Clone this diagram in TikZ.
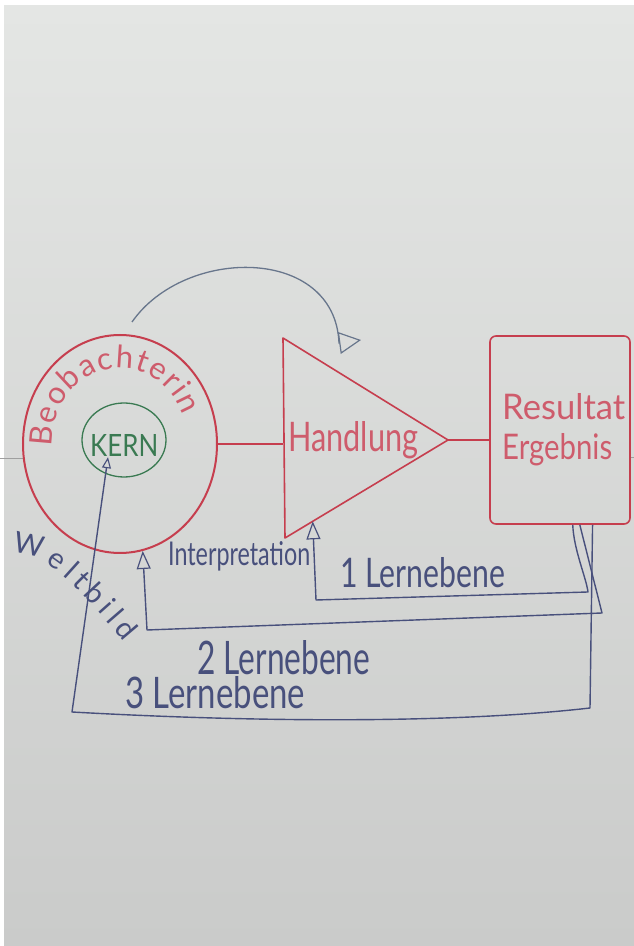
\documentclass[tikz,border=0pt]{standalone}
\usepackage{fontspec}
\setmainfont{Lato}
\usetikzlibrary{arrows.meta,shapes.geometric,calc,decorations.text}

\definecolor{penred}{RGB}{198,62,78}
\definecolor{inkred}{RGB}{206,92,108}
\definecolor{pengreen}{RGB}{58,122,82}
\definecolor{penblue}{RGB}{72,80,124}
\definecolor{pengray}{RGB}{104,118,140}
\definecolor{papertop}{RGB}{228,230,228}
\definecolor{papermid}{RGB}{220,222,219}
\definecolor{paperlow}{RGB}{202,203,202}

\begin{document}
\begin{tikzpicture}[x=1pt,y=1pt,
  redpen/.style={draw=penred, line width=1.6pt, line join=round},
  bluepen/.style={draw=penblue, line width=1.4pt, line join=round},
  openhead/.style={-{Triangle[open,length=18pt,width=14pt,line width=1.2pt]}},
  smallhead/.style={-{Triangle[open,length=11pt,width=9pt,line width=1.1pt]}},
  handtext/.style={inner sep=0pt, anchor=base west},
]
\useasboundingbox (0,0) rectangle (634,946);

% paper
\fill[white] (0,0) rectangle (634,946);
\shade[top color=papertop, middle color=papermid, bottom color=paperlow] (4,0) rectangle (634,940);
\draw[gray!75, line width=0.8pt] (0,488) -- (24,488);
\draw[gray!75, line width=0.8pt] (629,489) -- (634,489);

% observer with its core
\node[ellipse, draw=penred, line width=2pt, minimum width=194pt, minimum height=218pt, inner sep=0pt] (obs) at (120,502) {};
\node[ellipse, draw=pengreen, line width=1.3pt, minimum width=84pt, minimum height=74pt, inner sep=0pt] (core) at (124,506) {};
\node[handtext, text=pengreen] (kern) at (90,489) {\resizebox{68pt}{22pt}{KERN}};
\path[decorate, decoration={text along path,
  text={|\fontsize{31}{31}\selectfont\color{inkred}|Beobachterin},
  text align=fit to path}]
  ($(obs.center)+(182:68 and 76)$) arc[start angle=182, end angle=22, x radius=68, y radius=76];

% action triangle
\coordinate (tTop) at (283,608);
\coordinate (tBot) at (285,408);
\coordinate (tApex) at (448,506);
\draw[redpen] (tTop) -- (tBot) -- (tApex) -- cycle;
\node[handtext, text=inkred] (handlung) at (288,494) {\resizebox{130pt}{30pt}{Handlung}};

% result box
\node[draw=penred, line width=1.6pt, rounded corners=6pt, minimum width=140pt, minimum height=188pt, inner sep=0pt] (result) at (560,516) {};
\node[handtext, text=inkred] (resultat) at (502,526) {\resizebox{123pt}{26pt}{Resultat}};
\node[handtext, text=inkred] (ergebnis) at (502,486) {\resizebox{110pt}{26pt}{Ergebnis}};

% main chain
\draw[redpen] (obs.east) -- (obs.east -| tTop);
\draw[redpen] (tApex) -- (tApex -| result.west);

% observer acts
\coordinate (arcStart) at (132,624);
\draw[draw=pengray, line width=1.3pt, -{Triangle[open,length=22pt,width=22pt,line width=1.2pt]}]
  (arcStart) .. controls (185,700) and (335,700) .. (339,603) -- (361,606);

% feedback loops
\coordinate (r1) at ($(result.south west)!0.59!(result.south east)$);
\coordinate (r2) at ($(result.south west)!0.64!(result.south east)$);
\coordinate (r3) at ($(result.south west)!0.73!(result.south east)$);
\coordinate (tHit) at ($(tBot)!0.17!(tApex)$);
\coordinate (kernTip) at ($(kern.south west)+(18,0)$);

\draw[bluepen, openhead] (r1) .. controls +(1,-25) and +(-2,15) .. (588,354) -- (316,346) -- (tHit);
\draw[bluepen, openhead] (r2) -- (602,333) -- (147,316) -- (obs.282);
\draw[bluepen, smallhead] (r3) -- (590,238) .. controls (450,222) and (250,224) .. (72,234) -- (kernTip);

\node[handtext, text=penblue] (interp) at (168,380) {\resizebox{142pt}{24pt}{Interpretation}};
\node[handtext, text=penblue] (lern1) at (340,358) {\resizebox{165pt}{30pt}{1 Lernebene}};
\node[handtext, text=penblue] (lern2) at (197,271) {\resizebox{173pt}{34pt}{2 Lernebene}};
\node[handtext, text=penblue] (lern3) at (125,237) {\resizebox{180pt}{32pt}{3 Lernebene}};
\path[decorate, decoration={text along path,
  text={|\fontsize{29}{29}\selectfont\color{penblue}|Weltbild},
  text align=fit to path}]
  (12,392) .. controls (40,394) and (62,378) .. (124,304);
\end{tikzpicture}
\end{document}
